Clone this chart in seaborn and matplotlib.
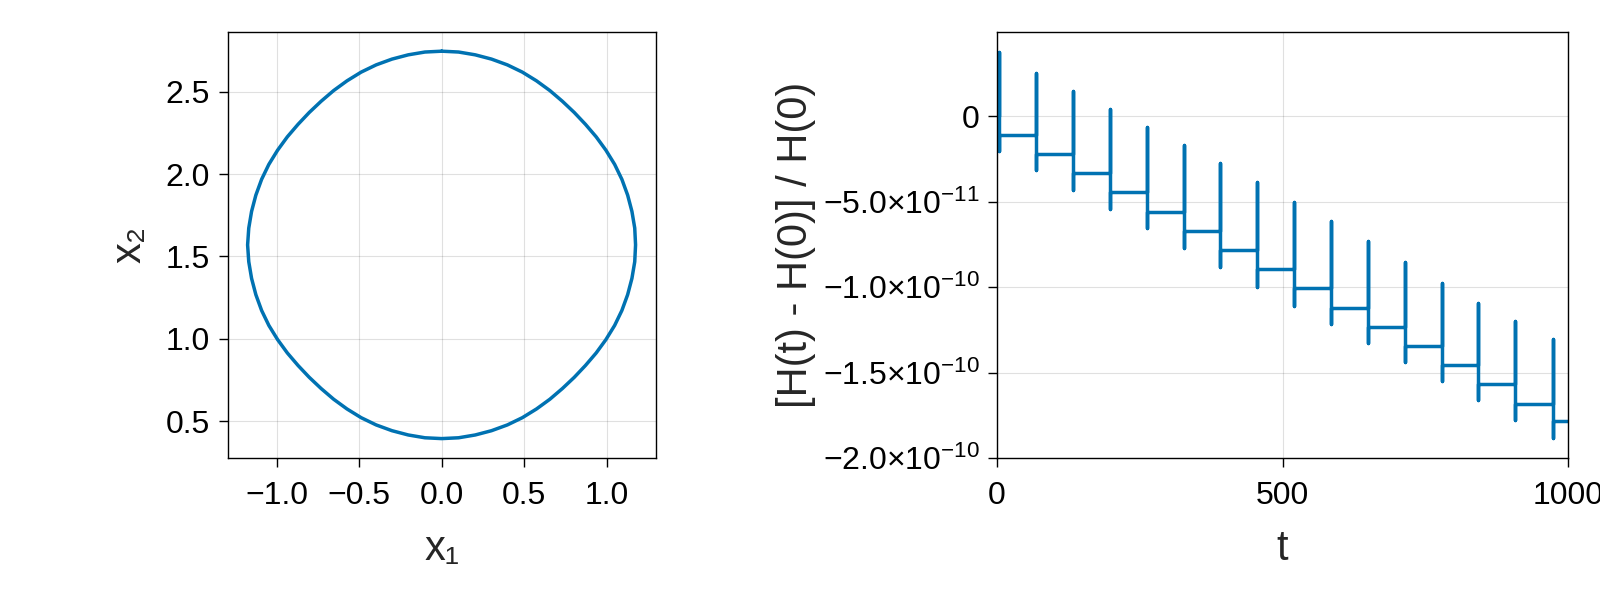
import seaborn as sns
import matplotlib
matplotlib.use("Agg")
import matplotlib.pyplot as plt

# closed orbit in the (x1, x2) plane (clockwise from the top)
x1 = [0.000, 0.102, 0.203, 0.302, 0.398, 0.489, 0.575, 0.656, 0.732, 0.804,
      0.872, 0.937, 0.996, 1.049, 1.093, 1.128, 1.154, 1.171, 1.176,
      1.171, 1.154, 1.128, 1.093, 1.049, 0.996, 0.937, 0.872, 0.804, 0.732,
      0.656, 0.575, 0.489, 0.398, 0.302, 0.203, 0.102, 0.000,
      -0.102, -0.203, -0.302, -0.398, -0.489, -0.575, -0.656, -0.732, -0.804,
      -0.872, -0.937, -0.996, -1.049, -1.093, -1.128, -1.154, -1.171, -1.178,
      -1.171, -1.154, -1.128, -1.093, -1.049, -0.996, -0.937, -0.872, -0.804, -0.732,
      -0.656, -0.575, -0.489, -0.398, -0.302, -0.203, -0.102, 0.000]
x2 = [2.746, 2.741, 2.724, 2.698, 2.663, 2.619, 2.566, 2.507, 2.442, 2.374,
      2.302, 2.226, 2.145, 2.059, 1.968, 1.872, 1.773, 1.672, 1.570,
      1.468, 1.367, 1.268, 1.172, 1.081, 0.995, 0.914, 0.838, 0.766, 0.698,
      0.633, 0.574, 0.521, 0.477, 0.442, 0.416, 0.399, 0.394,
      0.399, 0.416, 0.442, 0.477, 0.521, 0.574, 0.633, 0.698, 0.766,
      0.838, 0.914, 0.995, 1.081, 1.172, 1.268, 1.367, 1.468, 1.570,
      1.672, 1.773, 1.872, 1.968, 2.059, 2.145, 2.226, 2.302, 2.374, 2.442,
      2.507, 2.566, 2.619, 2.663, 2.698, 2.724, 2.741, 2.746]

# relative energy error: jump times, plateaus between jumps, spike extremes
jump_t = [4, 69, 133, 198, 262, 327, 391, 456, 520, 585, 650, 714, 779, 843, 908, 973]
plateau = [0.0, -1.09e-11, -2.23e-11, -3.34e-11, -4.45e-11, -5.59e-11, -6.72e-11,
           -7.85e-11, -8.95e-11, -1.004e-10, -1.119e-10, -1.230e-10, -1.344e-10,
           -1.455e-10, -1.568e-10, -1.682e-10, -1.785e-10]
spike_top = [3.75e-11, 2.52e-11, 1.46e-11, 0.43e-11, -0.61e-11, -1.66e-11, -2.73e-11,
             -3.85e-11, -5.0e-11, -6.15e-11, -7.30e-11, -8.52e-11, -9.75e-11,
             -1.094e-10, -1.197e-10, -1.30e-10]
spike_bottom = [-2.03e-11, -3.14e-11, -4.30e-11, -5.43e-11, -6.56e-11, -7.70e-11,
                -8.81e-11, -9.96e-11, -1.107e-10, -1.217e-10, -1.328e-10, -1.4375e-10,
                -1.549e-10, -1.660e-10, -1.775e-10, -1.88e-10]
t_end = 1000

x1_ticks = [-1.0, -0.5, 0.0, 0.5, 1.0]
x2_ticks = [0.5, 1.0, 1.5, 2.0, 2.5]
t_ticks = [0, 500, 1000]
dh_ticks = [0.0, -5e-11, -1e-10, -1.5e-10, -2e-10]
dh_labels = ["0", r"$-5.0{\times}10^{-11}$", r"$-1.0{\times}10^{-10}$",
             r"$-1.5{\times}10^{-10}$", r"$-2.0{\times}10^{-10}$"]

blue = "#0072B2"

sns.set_theme(style="whitegrid")
plt.rcParams["font.family"] = ["Liberation Sans", "DejaVu Sans"]
plt.rcParams["mathtext.fontset"] = "custom"
plt.rcParams["mathtext.rm"] = "Liberation Sans"
plt.rcParams["mathtext.it"] = "Liberation Sans:italic"
plt.rcParams["mathtext.bf"] = "Liberation Sans:bold"

fig = plt.figure(figsize=(16, 6), dpi=100)
ax1 = fig.add_axes([227.5 / 1600, 141.8 / 600, 428.5 / 1600, 426.6 / 600])
ax2 = fig.add_axes([997 / 1600, 141.8 / 600, 571 / 1600, 426.6 / 600])

sns.lineplot(x=x1, y=x2, sort=False, estimator=None, color=blue, linewidth=2.5, ax=ax1)

# build the step/spike path from the read values
ts, hs = [0], [plateau[0]]
for k, tk in enumerate(jump_t):
    ts += [tk, tk, tk, tk]
    hs += [plateau[k], spike_top[k], spike_bottom[k], plateau[k + 1]]
ts.append(t_end)
hs.append(plateau[-1])
sns.lineplot(x=ts, y=hs, sort=False, estimator=None, color=blue, linewidth=2.5, ax=ax2)

ax1.set_xlim(-1.30, 1.30)
ax1.set_ylim(0.275, 2.865)
ax1.set_xticks(x1_ticks)
ax1.set_yticks(x2_ticks)

ax2.set_xlim(0, 1000)
ax2.set_ylim(-2e-10, 4.95e-11)
ax2.set_xticks(t_ticks)
ax2.set_yticks(dh_ticks, dh_labels)

for ax in (ax1, ax2):
    ax.grid(True, color="black", alpha=0.12, linewidth=0.8)
    for sp in ax.spines.values():
        sp.set_visible(True)
        sp.set_color("black")
        sp.set_linewidth(1.0)
    ax.tick_params(direction="out", length=6.5, width=1.0, color="black",
                   labelcolor="black", labelsize=23,
                   left=True, bottom=True, top=False, right=False)
    ax.tick_params(axis="x", pad=10)
    ax.tick_params(axis="y", pad=6)

ax1.set_xlabel("x\u2081", fontsize=30)
ax1.set_ylabel("x\u2082", fontsize=30)
ax2.set_xlabel("t", fontsize=30)
ax2.set_ylabel("[H(t) - H(0)] / H(0)", fontsize=30)
ax1.xaxis.set_label_coords(0.5, -0.165)
ax2.xaxis.set_label_coords(0.5, -0.165)
ax1.yaxis.set_label_coords(-0.181, 0.5)
ax2.yaxis.set_label_coords(-0.317, 0.5)

fig.savefig("out.png", dpi=100, facecolor="white")
